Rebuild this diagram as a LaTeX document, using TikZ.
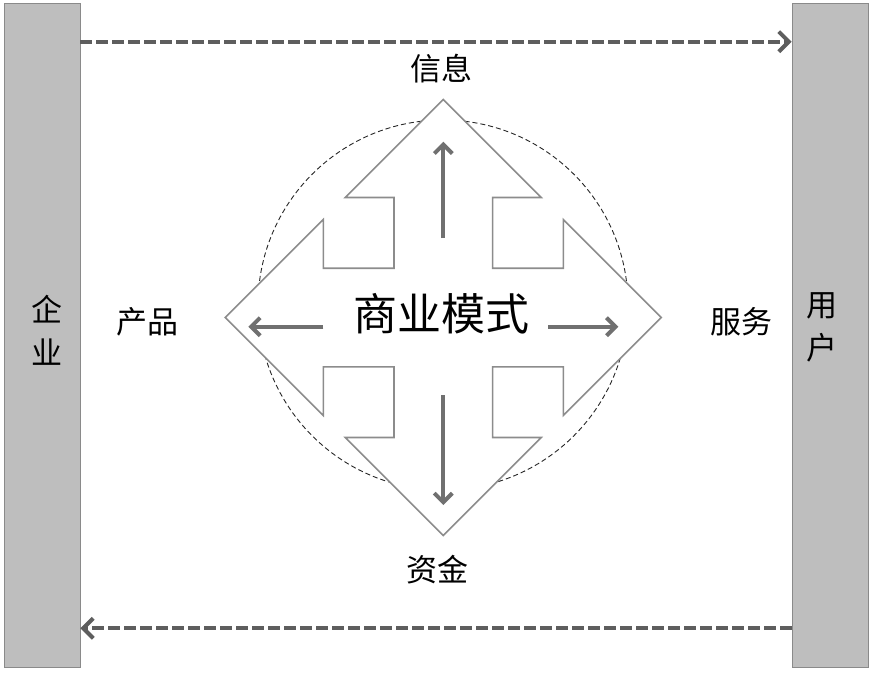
\documentclass[tikz,border=0pt]{standalone}
\usepackage{fontspec}
\newfontfamily\cjk{Noto Sans CJK SC}
\usetikzlibrary{arrows.meta}
\definecolor{barfill}{HTML}{BEBEBE}
\definecolor{barline}{HTML}{8A8A8A}
\definecolor{flowcol}{HTML}{5E5E5E}
\definecolor{innercol}{HTML}{707070}
\definecolor{shapeline}{HTML}{8C8C8C}
\begin{document}
\begin{tikzpicture}[x=1pt,y=-1pt,
  bar/.style={draw=barline,line width=0.8pt,fill=barfill,minimum width=76pt,minimum height=664pt,inner sep=0pt},
  bartext/.style={font=\cjk\fontsize{31}{43}\selectfont,align=center,inner sep=0pt},
  label/.style={font=\cjk\fontsize{31}{36}\selectfont,inner sep=0pt},
  flow/.style={draw=flowcol,line width=4pt,dash pattern=on 12pt off 4pt,-{Straight Barb[length=10pt,width=20pt,line width=4pt]}},
  inner/.style={draw=innercol,line width=4pt,-{Straight Barb[length=9pt,width=18pt,line width=4pt]}},
  ring/.style={circle,draw=black!85,line width=0.9pt,dash pattern=on 5pt off 3pt,minimum size=370pt,inner sep=0pt},
  hub/.style={draw=shapeline,line width=1.6pt,fill=white,line join=miter}
]
\useasboundingbox (0,0) rectangle (872,674);
% side bars
\node[bar] (ent) at (42,335) {};
\node[bar] (usr) at (830,335.5) {};
\node[bartext] (entt) at (46.5,330) {企\\业};
\node[bartext] (usrt) at (822,327) {用\\户};
% flows
\coordinate (ytop) at (0,41.7);
\coordinate (ybot) at (0,628.3);
\draw[flow] (ent.east |- ytop) -- (usr.west |- ytop);
\draw[flow] (usr.west |- ybot) -- (ent.east |- ybot);
% dashed circle
\node[ring] (circ) at (443,305) {};
% hub shape
\begin{scope}[shift={(443.3,317.5)}]
\def\s{49.3}\def\h{120}\def\b{98}\def\t{218}
\draw[hub] (0,-\t) -- (\b,-\h) -- (\s,-\h) -- (\s,-\s) -- (\h,-\s) -- (\h,-\b)
  -- (\t,0) -- (\h,\b) -- (\h,\s) -- (\s,\s) -- (\s,\h) -- (\b,\h)
  -- (0,\t) -- (-\b,\h) -- (-\s,\h) -- (-\s,\s) -- (-\h,\s) -- (-\h,\b)
  -- (-\t,0) -- (-\h,-\b) -- (-\h,-\s) -- (-\s,-\s) -- (-\s,-\h) -- (-\b,-\h) -- cycle;
\coordinate (c0) at (0,0);
\coordinate (us) at (0,-79.5);  \coordinate (ue) at (0,-175.8);
\coordinate (ds) at (0,77.5);   \coordinate (de) at (0,187.5);
\coordinate (ls) at (-120,9.2); \coordinate (le) at (-195,9.2);
\coordinate (rs) at (105,9.2);  \coordinate (re) at (175,9.2);
\draw[inner] (us) -- (ue);
\draw[inner] (ds) -- (de);
\draw[inner] (ls) -- (le);
\draw[inner] (rs) -- (re);
\end{scope}
\node[font=\cjk\fontsize{44}{50}\selectfont,inner sep=0pt] (core) at (441.7,314) {商业模式};
% labels
\node[label] (info) at (441.7,69) {信息};
\node[label] (money) at (437.5,570) {资金};
\node[label] (prod) at (147.5,321.5) {产品};
\node[label] (serv) at (741,322) {服务};
\end{tikzpicture}
\end{document}
